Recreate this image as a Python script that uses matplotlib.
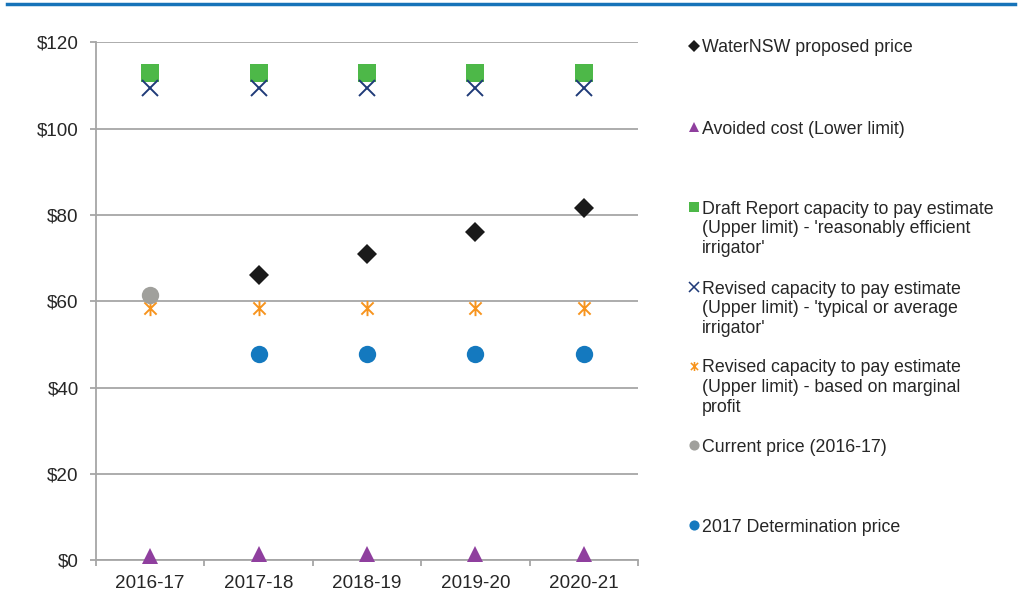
import matplotlib
matplotlib.use("Agg")
import matplotlib.pyplot as plt
from matplotlib.lines import Line2D
from matplotlib.path import Path
import numpy as np

plt.rcParams['font.family'] = ['Liberation Sans', 'DejaVu Sans']

years = ["2016-17", "2017-18", "2018-19", "2019-20", "2020-21"]
waternsw_proposed = [np.nan, 66.0, 70.9, 76.0, 81.6]
avoided_cost = [0.9, 1.5, 1.5, 1.5, 1.5]
draft_ctp = [112.8, 112.8, 112.8, 112.8, 112.8]
revised_ctp_typical = [109.5, 109.5, 109.5, 109.5, 109.5]
revised_ctp_marginal = [58.5, 58.5, 58.5, 58.5, 58.5]
current_price = [61.5, np.nan, np.nan, np.nan, np.nan]
determination_2017 = [np.nan, 47.9, 47.9, 47.9, 47.9]
y_ticks = [0, 20, 40, 60, 80, 100, 120]
y_tick_labels = ["$0", "$20", "$40", "$60", "$80", "$100", "$120"]

labels = [
    "WaterNSW proposed price",
    "Avoided cost (Lower limit)",
    "Draft Report capacity to pay estimate\n(Upper limit) - 'reasonably efficient\nirrigator'",
    "Revised capacity to pay estimate\n(Upper limit) - 'typical or average\nirrigator'",
    "Revised capacity to pay estimate\n(Upper limit) - based on marginal\nprofit",
    "Current price (2016-17)",
    "2017 Determination price",
]

star = Path([(0, -1), (0, 1), (-0.8, -0.8), (0.8, 0.8), (-0.8, 0.8), (0.8, -0.8)],
            [Path.MOVETO, Path.LINETO, Path.MOVETO, Path.LINETO, Path.MOVETO, Path.LINETO])

series = [
    (waternsw_proposed, dict(marker='D', color='#1a1a1a', ms=10, mew=0, lms=6)),
    (avoided_cost, dict(marker='^', color='#8f3f9e', ms=12, mew=0, lms=7.5)),
    (draft_ctp, dict(marker='s', color='#4db848', ms=12.5, mew=0, lms=7.3)),
    (revised_ctp_typical, dict(marker='x', color='#1f3a78', ms=11, mew=1.4, lms=6.5)),
    (revised_ctp_marginal, dict(marker=star, color='#f7941d', ms=11, mew=1.4, lms=6.5)),
    (current_price, dict(marker='o', color='#a0a09c', ms=12.5, mew=0, lms=7.3)),
    (determination_2017, dict(marker='o', color='#1479bf', ms=12.5, mew=0, lms=7.3)),
]

W, H = 1019, 596
fig = plt.figure(figsize=(W / 100, H / 100), dpi=100)
ax = fig.add_axes([96 / W, (H - 560.3) / H, (638 - 96) / W, (560.3 - 42.3) / H])

x = np.arange(len(years))
for vals, st in series:
    ax.plot(x, vals, linestyle='none', marker=st['marker'], color=st['color'],
            markersize=st['ms'], markeredgewidth=st['mew'], zorder=3, clip_on=False)

ax.set_xlim(-0.5, len(years) - 0.5)
ax.set_ylim(0, 120)
ax.set_yticks(y_ticks)
ax.set_yticklabels(y_tick_labels)
ax.yaxis.grid(True, color='#a6a6a6', linewidth=1.3)
ax.set_axisbelow(True)
for s in ['top', 'right']:
    ax.spines[s].set_visible(False)
for s in ['left', 'bottom']:
    ax.spines[s].set_color('#a6a6a6')
    ax.spines[s].set_linewidth(1.3)

ax.set_xticks(np.arange(-0.5, len(years), 1.0))
ax.set_xticklabels([])
ax.set_xticks(x, minor=True)
ax.set_xticklabels(years, minor=True)
ax.tick_params(axis='x', which='major', length=4.5, width=1.3, color='#a6a6a6')
ax.tick_params(axis='x', which='minor', length=0, pad=10.5, labelsize=13.6, labelcolor='#262626')
ax.tick_params(axis='y', length=4.5, width=1.3, color='#a6a6a6', pad=8, labelsize=13.6,
               labelcolor='#262626')

# legend drawn manually to match irregular spacing
legend_y = [46, 127, 207, 287, 366, 445, 525]
for (vals, st), lab, ly in zip(series, labels, legend_y):
    fig.add_artist(Line2D([694 / W], [(H - ly) / H], marker=st['marker'], color=st['color'],
                          markersize=st['lms'], markeredgewidth=st['mew'] * 0.8 if st['mew'] else 0,
                          linestyle='none', transform=fig.transFigure))
    fig.text(702 / W, (H - ly + 6.5) / H, lab, ha='left', va='top', fontsize=12.8,
             color='#262626', transform=fig.transFigure)

fig.add_artist(Line2D([7 / W, 1015 / W], [(H - 4) / H] * 2, color='#1673b9', linewidth=2.5,
                      transform=fig.transFigure))

fig.savefig("out.png", dpi=100)
